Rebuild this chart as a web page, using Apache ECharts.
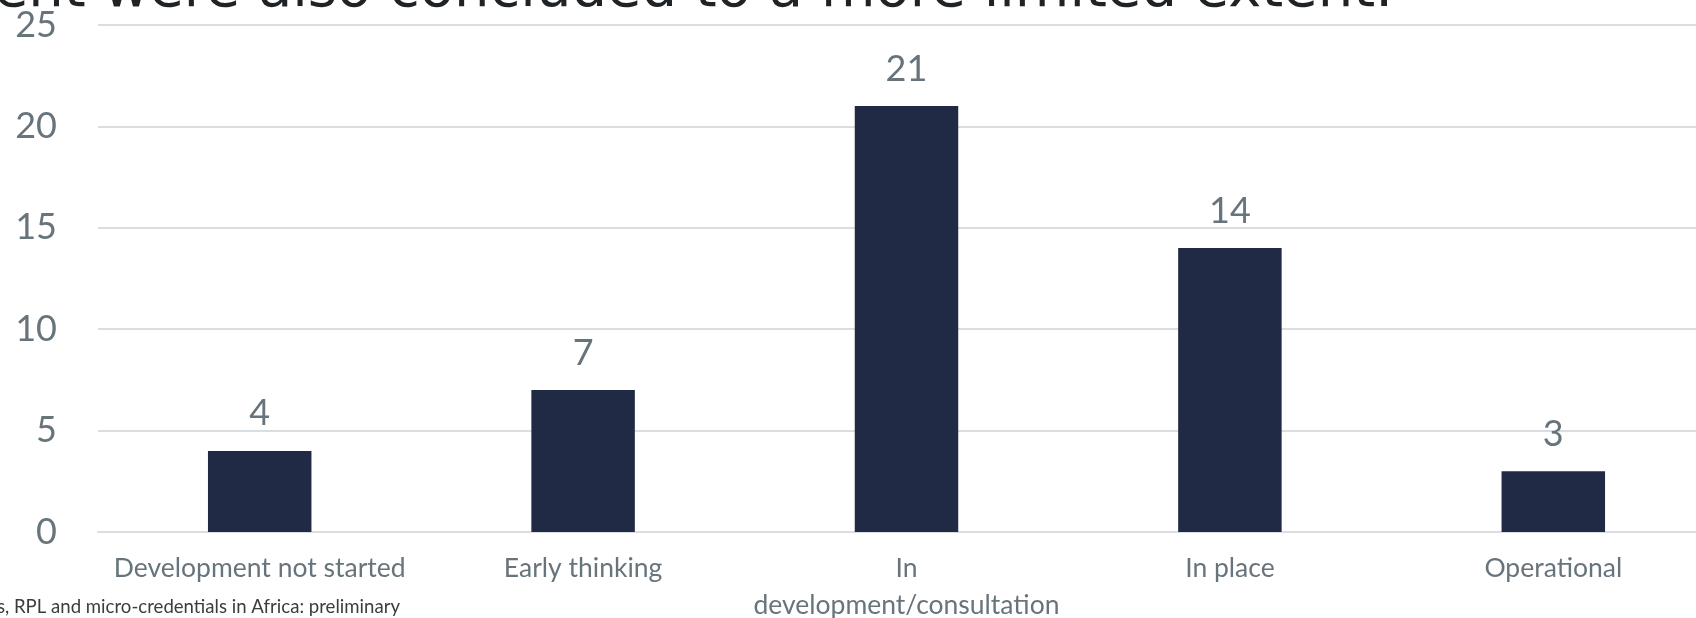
<!DOCTYPE html>
<html>
<head>
<meta charset="utf-8">
<script src="https://cdn.jsdelivr.net/npm/echarts@6/dist/echarts.min.js"></script>
<style>
  html, body { margin: 0; padding: 0; background: #ffffff; overflow: hidden; }
  #chart { width: 1696px; height: 618px; }
</style>
</head>
<body>
<div id="chart"></div>
<script>
// Stages of development and the number of cases in each
const categories = [
  'Development not started',
  'Early thinking',
  'In development/consultation',
  'In place',
  'Operational'
];
const counts = [4, 7, 21, 14, 3];
const yTicks = { min: 0, max: 25, interval: 5 };

const headingText = 'ent were also concluded to a more limited extent.';
const sourceText = 's, RPL and micro-credentials in Africa: preliminary';

const labelGrey = '#68747c';
const barColour = '#212a45';
const gridGrey = '#dadee2';
const fontFamily = 'Lato, "Noto Sans", sans-serif';

const chart = echarts.init(document.getElementById('chart'), null, { renderer: 'canvas' });

chart.setOption({
  animation: false,
  backgroundColor: '#ffffff',
  // the plot area runs a little past the right edge of the canvas
  grid: { left: 98, top: 25, width: 1617, bottom: 86, containLabel: false, outerBoundsMode: 'none' },
  xAxis: {
    type: 'category',
    data: categories,
    axisLine: { show: true, lineStyle: { color: gridGrey, width: 2 } },
    axisTick: { show: false },
    axisLabel: {
      color: labelGrey,
      fontFamily: fontFamily,
      fontSize: 26.5,
      lineHeight: 37,
      margin: 18,
      interval: 0,
      formatter: function (v) {
        return v === 'In development/consultation' ? 'In\ndevelopment/consultation' : v;
      }
    }
  },
  yAxis: {
    type: 'value',
    min: yTicks.min,
    max: yTicks.max,
    interval: yTicks.interval,
    axisLine: { show: false },
    axisTick: { show: false },
    splitLine: { show: true, lineStyle: { color: gridGrey, width: 2 } },
    axisLabel: {
      color: labelGrey,
      fontFamily: fontFamily,
      fontSize: 36,
      margin: 41
    }
  },
  series: [{
    type: 'bar',
    data: counts,
    barWidth: '32%',
    itemStyle: { color: barColour },
    label: {
      show: true,
      position: 'top',
      distance: 19,
      color: labelGrey,
      fontFamily: fontFamily,
      fontSize: 36
    }
  }],
  graphic: [
    {
      type: 'text',
      z: 100,
      style: {
        text: headingText,
        x: 1393,
        y: -9,
        align: 'right',
        verticalAlign: 'middle',
        fill: '#1f2326',
        font: '56px "DejaVu Sans", sans-serif'
      }
    },
    {
      type: 'text',
      z: 100,
      style: {
        text: sourceText,
        x: 400,
        y: 616,
        align: 'right',
        verticalAlign: 'bottom',
        fill: '#3c3c3c',
        font: '18.6px Lato, sans-serif'
      }
    }
  ]
});
</script>
</body>
</html>
